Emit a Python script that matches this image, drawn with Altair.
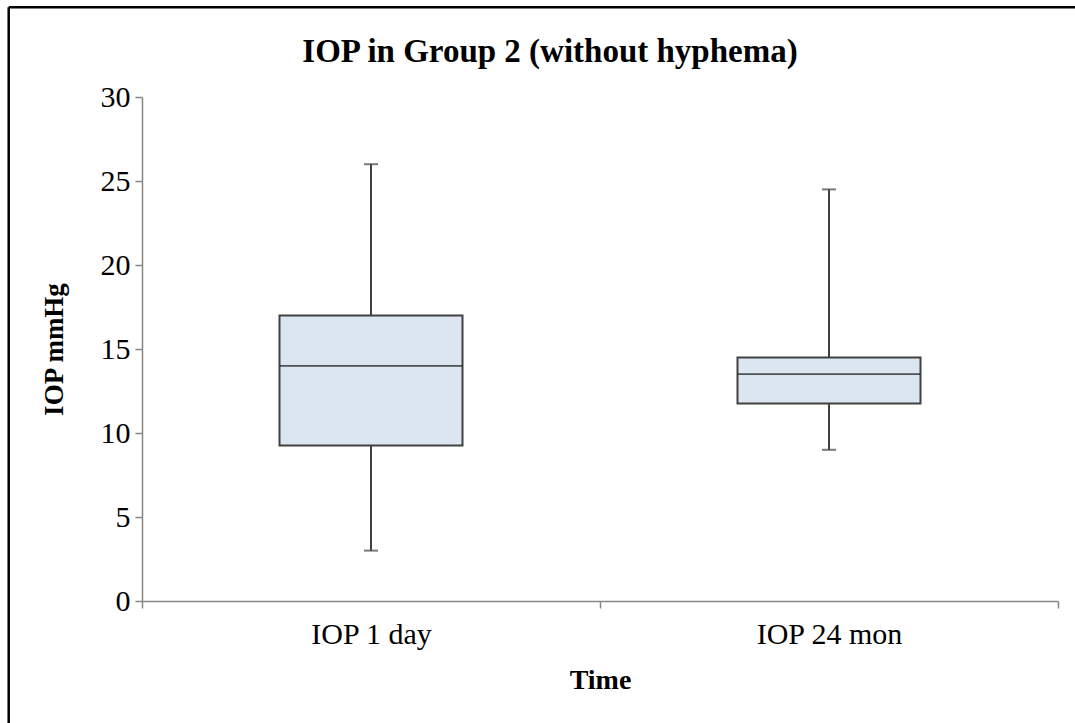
import altair as alt
import pandas as pd

# Box-plot summary for intraocular pressure (mmHg) at each time point
categories = ["IOP 1 day", "IOP 24 mon"]
whisker_low = [3.0, 9.0]
q1 = [9.25, 11.75]
median = [14.0, 13.5]
q3 = [17.0, 14.5]
whisker_high = [26.0, 24.5]

y_ticks = [0, 5, 10, 15, 20, 25, 30]

df = pd.DataFrame({
    "time": categories,
    "low": whisker_low,
    "q1": q1,
    "median": median,
    "q3": q3,
    "high": whisker_high,
})

FONT = "Liberation Serif"
AXIS_GRAY = "#868686"
LINE_DARK = "#404040"
BOX_FILL = "#dce6f1"

PLOT_W, PLOT_H = 916, 504
PAD_LEFT, PAD_TOP = 142, 97

x_enc = alt.X(
    "time:N",
    sort=categories,
    scale=alt.Scale(paddingInner=0, paddingOuter=0),
    axis=alt.Axis(
        title="Time",
        labelAngle=0,
        labelFont=FONT,
        labelFontSize=30,
        labelColor="black",
        labelPadding=11,
        tickBand="extent",
        tickSize=7,
        tickColor=AXIS_GRAY,
        domainColor=AXIS_GRAY,
        domainWidth=1.5,
        tickWidth=1.5,
        titleFont=FONT,
        titleFontSize=28,
        titleFontWeight="bold",
        titleColor="black",
        titleX=PLOT_W / 2,
        titleY=87,
        titleBaseline="alphabetic",
        titleAlign="center",
    ),
)

y_scale = alt.Scale(domain=[0, 30], nice=False, zero=True)
y_axis = alt.Axis(
    title="IOP mmHg",
    values=y_ticks,
    grid=False,
    labelFont=FONT,
    labelFontSize=30,
    labelColor="black",
    labelPadding=5,
    tickSize=7,
    tickColor=AXIS_GRAY,
    domainColor=AXIS_GRAY,
    domainWidth=1.5,
    tickWidth=1.5,
    titleFont=FONT,
    titleFontSize=27,
    titleFontWeight="bold",
    titleColor="black",
    titleAngle=270,
    titleX=-80,
    titleY=PLOT_H / 2,
    titleBaseline="alphabetic",
    titleAlign="center",
)

base = alt.Chart(df)

whiskers = base.mark_rule(color=LINE_DARK, strokeWidth=2).encode(
    x=x_enc,
    y=alt.Y("low:Q", scale=y_scale, axis=y_axis),
    y2="high:Q",
)

caps_low = base.mark_tick(orient="horizontal", size=14, thickness=2, color=LINE_DARK).encode(
    x=alt.X("time:N", sort=categories),
    y="low:Q",
)
caps_high = base.mark_tick(orient="horizontal", size=14, thickness=2, color=LINE_DARK).encode(
    x=alt.X("time:N", sort=categories),
    y="high:Q",
)

boxes = base.mark_bar(size=183, fill=BOX_FILL, stroke=LINE_DARK, strokeWidth=2).encode(
    x=alt.X("time:N", sort=categories),
    y="q1:Q",
    y2="q3:Q",
)

medians = base.mark_tick(orient="horizontal", size=182, thickness=1.8, color="#111111").encode(
    x=alt.X("time:N", sort=categories),
    y="median:Q",
)

# Chart title, placed over the figure area
title_df = alt.Data(values=[{"t": "IOP in Group 2 (without hyphema)"}])
title = alt.Chart(title_df).mark_text(
    font=FONT, fontSize=33, fontWeight="bold", color="black",
    align="center", baseline="alphabetic",
).encode(
    text="t:N",
    x=alt.value(550 - PAD_LEFT),
    y=alt.value(62 - PAD_TOP),
)

# Frame lines along the top and left edge of the figure
frame_df = alt.Data(values=[{"k": 1}])
frame_top = alt.Chart(frame_df).mark_rule(color="black", strokeWidth=2.5).encode(
    x=alt.value(8.7 - PAD_LEFT),
    x2=alt.value(1075 - PAD_LEFT + 5),
    y=alt.value(7.3 - PAD_TOP),
)
frame_left = alt.Chart(frame_df).mark_rule(color="black", strokeWidth=2.5).encode(
    x=alt.value(8.7 - PAD_LEFT),
    y=alt.value(7.3 - PAD_TOP),
    y2=alt.value(723 - PAD_TOP + 5),
)

chart = alt.layer(
    whiskers, caps_low, caps_high, boxes, medians, title, frame_top, frame_left
).properties(
    width=PLOT_W,
    height=PLOT_H,
    autosize=alt.AutoSizeParams(type="none"),
    padding={"left": PAD_LEFT, "top": PAD_TOP, "right": 1075 - PAD_LEFT - PLOT_W, "bottom": 723 - PAD_TOP - PLOT_H},
    background="white",
).configure_view(stroke=None)

chart.save("out.html", embed_options={"renderer": "svg", "actions": False})
